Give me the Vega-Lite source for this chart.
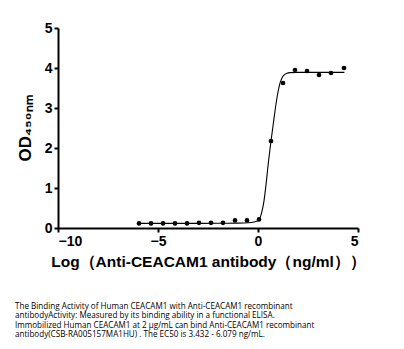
{
  "$schema": "https://vega.github.io/schema/vega-lite/v6.json",
  "width": 300,
  "height": 200,
  "autosize": {"type": "none"},
  "padding": {"left": 58, "top": 28, "right": 46, "bottom": 121},
  "background": "white",
  "config": {
    "view": {"stroke": null},
    "axis": {
      "grid": false,
      "domainColor": "black",
      "domainWidth": 2,
      "tickColor": "black",
      "tickWidth": 2,
      "tickSize": 4,
      "labelFont": "Liberation Sans",
      "labelFontWeight": "bold",
      "labelFontSize": 14,
      "labelColor": "black",
      "titleFont": "Liberation Sans",
      "titleFontWeight": "bold",
      "titleColor": "black"
    }
  },
  "title": {
    "text": [
      "The Binding Activity of Human CEACAM1 with Anti-CEACAM1 recombinant",
      "antibodyActivity: Measured by its binding ability in a functional ELISA.",
      "Immobilized Human CEACAM1 at 2 μg/mL can bind Anti-CEACAM1 recombinant",
      "antibody(CSB-RA005157MA1HU) . The EC50 is 3.432 - 6.079 ng/mL."
    ],
    "orient": "bottom",
    "anchor": "start",
    "frame": "group",
    "dx": -43,
    "offset": 33,
    "font": "Open Sans",
    "fontSize": 8.1,
    "fontWeight": "normal",
    "lineHeight": 9.6,
    "color": "black",
    "baseline": "top"
  },
  "datasets": {
    "points": [
      {"logc": -5.95, "od": 0.115},
      {"logc": -5.35, "od": 0.115},
      {"logc": -4.75, "od": 0.115},
      {"logc": -4.15, "od": 0.115},
      {"logc": -3.55, "od": 0.115},
      {"logc": -2.95, "od": 0.13},
      {"logc": -2.35, "od": 0.13},
      {"logc": -1.75, "od": 0.13},
      {"logc": -1.15, "od": 0.19},
      {"logc": -0.55, "od": 0.19},
      {"logc": 0.05, "od": 0.215},
      {"logc": 0.65, "od": 2.175},
      {"logc": 1.25, "od": 3.625},
      {"logc": 1.85, "od": 3.95},
      {"logc": 2.45, "od": 3.925},
      {"logc": 3.05, "od": 3.825},
      {"logc": 3.65, "od": 3.875},
      {"logc": 4.3, "od": 4.0}
    ],
    "curve": [
      {"logc": -6.0, "od": 0.115},
      {"logc": -4.0, "od": 0.115},
      {"logc": -2.0, "od": 0.118},
      {"logc": -1.0, "od": 0.122},
      {"logc": -0.5, "od": 0.13},
      {"logc": -0.2, "od": 0.15},
      {"logc": 0.0, "od": 0.18},
      {"logc": 0.1, "od": 0.25},
      {"logc": 0.2, "od": 0.42},
      {"logc": 0.3, "od": 0.68},
      {"logc": 0.4, "od": 1.08},
      {"logc": 0.5, "od": 1.55},
      {"logc": 0.6, "od": 1.98},
      {"logc": 0.7, "od": 2.36},
      {"logc": 0.8, "od": 2.74},
      {"logc": 0.9, "od": 3.1},
      {"logc": 1.0, "od": 3.4},
      {"logc": 1.1, "od": 3.62},
      {"logc": 1.2, "od": 3.75},
      {"logc": 1.3, "od": 3.82},
      {"logc": 1.45, "od": 3.87},
      {"logc": 1.6, "od": 3.885},
      {"logc": 2.0, "od": 3.89},
      {"logc": 3.0, "od": 3.89},
      {"logc": 4.32, "od": 3.89}
    ]
  },
  "encoding": {
    "x": {
      "field": "logc", "type": "quantitative",
      "scale": {"domain": [-10, 5], "nice": false, "zero": false},
      "axis": {"values": [-10, -5, 0, 5], "title": "Log（Anti-CEACAM1 antibody（ng/ml））", "titleFontSize": 15.5, "titlePadding": 6, "labelPadding": 2}
    },
    "y": {
      "field": "od", "type": "quantitative",
      "scale": {"domain": [0, 5], "nice": false},
      "axis": {"values": [0, 1, 2, 3, 4, 5], "labelOverlap": false, "title": "OD₄₅₀ₙₘ", "titleFontSize": 17, "titlePadding": 10, "labelPadding": 2}
    }
  },
  "layer": [
    {
      "data": {"name": "curve"},
      "mark": {"type": "line", "color": "black", "strokeWidth": 1.1, "interpolate": "monotone"}
    },
    {
      "data": {"name": "points"},
      "mark": {"type": "circle", "color": "black", "opacity": 1, "size": 22}
    }
  ]
}
